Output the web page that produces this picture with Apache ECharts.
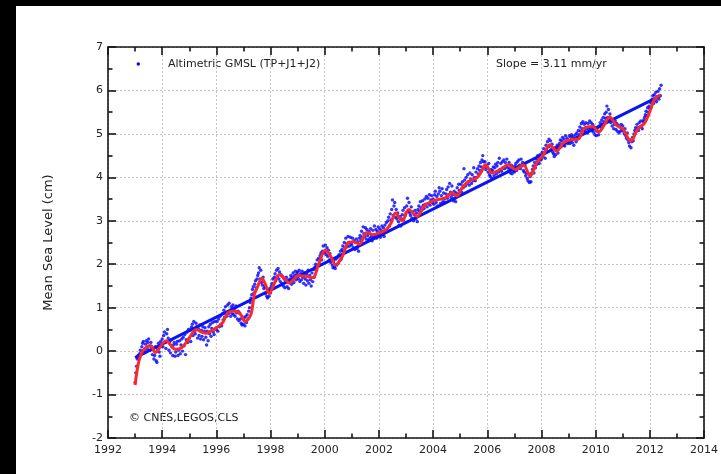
<!DOCTYPE html>
<html><head><meta charset="utf-8">
<script src="https://cdn.jsdelivr.net/npm/echarts@6/dist/echarts.min.js"></script>
<style>html,body{margin:0;padding:0;background:#fff}#c{width:721px;height:474px}</style>
</head><body><div id="c"></div>
<script>
// ---- Data ----
const dotYears = [1993,1994,1995,1996,1997,1998,1999,2000,2001,2002,2003,2004,2005,2006,2007,2008,2009,2010,2011,2012];
const dots1993 = [-0.72,-0.50,-0.35,-0.18,-0.10,-0.16,-0.06,0.02,-0.08,0.10,0.18,0.22,0.02,-0.04,0.16,0.24,0.06,0.20,0.28,0.12,0.02,0.20,0.10,-0.08,0.04,-0.18,-0.10,0.10,-0.22,-0.26,0.05,0.18,-0.02,-0.12,0.22,0.12];
const dots1994 = [0.28,0.10,0.36,0.44,0.20,0.06,0.40,0.50,0.30,0.02,0.22,-0.04,0.26,0.10,-0.10,0.14,0.20,-0.12,-0.02,0.16,0.22,-0.10,0.02,0.24,-0.06,0.14,0.28,0.00,0.32,0.12,0.38,-0.08,0.26,0.44,0.20,0.50];
const dots1995 = [0.30,0.48,0.22,0.55,0.62,0.36,0.68,0.46,0.40,0.64,0.56,0.30,0.52,0.36,0.60,0.28,0.48,0.34,0.56,0.26,0.46,0.54,0.32,0.14,0.46,0.24,0.56,0.40,0.62,0.34,0.52,0.66,0.44,0.38,0.68,0.52];
const dots1996 = [0.50,0.68,0.46,0.74,0.56,0.80,0.62,0.58,0.86,0.72,0.94,0.78,1.02,0.86,0.80,1.06,0.86,1.10,0.90,0.80,1.02,0.86,1.06,0.84,0.98,0.80,1.04,0.88,0.74,0.92,0.70,0.88,0.74,0.64,0.60,0.78];
const dots1997 = [0.62,0.76,0.58,0.80,0.66,0.84,0.74,0.92,1.00,1.12,1.22,1.30,1.42,1.48,1.34,1.54,1.62,1.46,1.66,1.74,1.80,1.92,1.66,1.86,1.58,1.52,1.70,1.44,1.50,1.32,1.46,1.26,1.22,1.40,1.26,1.44];
const dots1998 = [1.34,1.50,1.56,1.66,1.44,1.70,1.78,1.62,1.86,1.72,1.90,1.66,1.82,1.60,1.76,1.56,1.72,1.50,1.66,1.46,1.62,1.70,1.48,1.64,1.44,1.58,1.66,1.74,1.54,1.70,1.80,1.58,1.74,1.84,1.64,1.78];
const dots1999 = [1.82,1.66,1.86,1.60,1.78,1.64,1.84,1.70,1.56,1.80,1.66,1.52,1.78,1.62,1.86,1.56,1.74,1.64,1.50,1.80,1.60,1.88,1.70,1.94,2.00,1.86,2.10,1.96,2.14,2.00,2.20,2.26,2.10,2.30,2.42,2.26];
const dots2000 = [2.28,2.44,2.22,2.38,2.18,2.32,2.10,2.24,2.04,2.14,1.98,1.92,2.08,1.94,1.90,2.12,1.98,2.16,2.02,2.22,2.08,2.30,2.12,2.34,2.42,2.30,2.50,2.38,2.60,2.46,2.40,2.64,2.50,2.42,2.62,2.48];
const dots2001 = [2.44,2.60,2.38,2.54,2.34,2.50,2.58,2.36,2.52,2.30,2.60,2.66,2.54,2.76,2.62,2.86,2.70,2.64,2.84,2.58,2.80,2.66,2.56,2.76,2.60,2.82,2.64,2.54,2.78,2.62,2.88,2.66,2.80,2.60,2.76,2.86];
const dots2002 = [2.66,2.82,2.62,2.78,2.88,2.68,2.84,2.64,2.90,2.74,2.96,2.78,3.00,3.08,2.88,3.16,3.02,3.26,3.48,3.12,3.34,3.42,3.08,3.26,3.04,3.18,2.98,2.90,3.10,2.88,3.04,3.14,3.24,3.02,3.30,3.12];
const dots2003 = [3.18,3.34,3.52,3.22,3.42,3.18,3.12,3.32,3.06,3.20,3.00,3.14,3.24,3.04,3.18,2.98,3.26,3.34,3.22,3.44,3.30,3.24,3.46,3.36,3.28,3.50,3.38,3.56,3.32,3.52,3.40,3.60,3.36,3.48,3.58,3.42];
const dots2004 = [3.50,3.38,3.60,3.68,3.42,3.56,3.34,3.62,3.76,3.68,3.40,3.58,3.74,3.44,3.64,3.50,3.42,3.62,3.72,3.52,3.78,3.60,3.86,3.66,3.54,3.80,3.60,3.46,3.68,3.52,3.44,3.64,3.76,3.58,3.84,3.70];
const dots2005 = [3.70,3.84,3.66,3.90,3.76,4.20,3.94,3.80,4.00,3.86,4.06,3.90,3.82,4.10,3.96,3.86,4.06,3.92,4.22,4.00,3.92,4.12,4.00,4.20,4.08,4.26,4.16,4.34,4.24,4.40,4.50,4.36,4.24,4.36,4.18,4.28];
const dots2006 = [4.24,4.12,4.32,4.06,4.02,4.18,3.98,4.16,4.24,4.04,4.22,4.30,4.08,4.26,4.34,4.12,4.44,4.18,4.32,4.14,4.36,4.22,4.40,4.20,4.34,4.26,4.42,4.22,4.14,4.34,4.20,4.10,4.28,4.08,4.24,4.14];
const dots2007 = [4.12,4.26,4.32,4.16,4.36,4.22,4.40,4.28,4.20,4.42,4.26,4.34,4.16,4.12,4.28,4.04,4.10,3.98,3.92,4.08,3.88,4.02,3.90,4.10,4.18,4.26,4.10,4.34,4.22,4.42,4.30,4.50,4.38,4.32,4.52,4.40];
const dots2008 = [4.42,4.58,4.48,4.66,4.56,4.44,4.74,4.62,4.82,4.70,4.88,4.72,4.84,4.64,4.76,4.58,4.54,4.48,4.68,4.52,4.66,4.74,4.56,4.70,4.78,4.86,4.70,4.84,4.92,4.74,4.88,4.72,4.96,4.80,4.90,4.78];
const dots2009 = [4.82,4.96,4.78,4.92,4.98,4.80,4.94,4.74,4.90,4.98,4.82,5.02,4.88,5.08,4.98,5.16,5.06,5.24,5.12,5.28,5.08,5.22,5.06,5.26,5.12,5.02,5.24,5.10,5.30,5.14,5.26,5.08,5.22,5.04,5.16,4.98];
const dots2010 = [5.10,4.96,5.06,5.14,4.98,5.18,5.26,5.16,5.32,5.22,5.38,5.28,5.46,5.36,5.50,5.64,5.38,5.56,5.32,5.46,5.26,5.34,5.18,5.28,5.12,5.22,5.30,5.10,5.24,5.06,5.20,5.02,5.16,5.06,5.22,5.10];
const dots2011 = [5.18,5.06,5.00,5.12,4.96,4.90,5.02,4.86,4.80,4.72,4.86,4.68,4.82,4.92,4.84,5.00,5.08,5.14,5.06,5.22,5.14,5.08,5.26,5.16,5.30,5.18,5.12,5.28,5.32,5.38,5.44,5.52,5.42,5.60,5.50,5.64];
const dots2012 = [5.58,5.72,5.62,5.80,5.88,5.70,5.90,5.78,5.96,5.74,5.86,5.98,5.80,6.04,5.88,6.12];
const dotArrays = [dots1993,dots1994,dots1995,dots1996,dots1997,dots1998,dots1999,dots2000,dots2001,dots2002,dots2003,dots2004,dots2005,dots2006,dots2007,dots2008,dots2009,dots2010,dots2011,dots2012];
const samplesPerYear = 36;

// smoothed (red) curve
const redT = [1993.00,1993.10,1993.18,1993.30,1993.45,1993.57,1993.75,1993.90,1994.05,1994.16,1994.30,1994.48,1994.70,1994.95,1995.15,1995.26,1995.45,1995.63,1995.80,1995.93,1996.10,1996.24,1996.42,1996.60,1996.73,1996.91,1997.05,1997.12,1997.28,1997.40,1997.50,1997.68,1997.80,1997.95,1998.10,1998.32,1998.50,1998.69,1998.90,1999.06,1999.30,1999.55,1999.79,2000.02,2000.22,2000.40,2000.65,2000.85,2001.08,2001.28,2001.55,2001.78,2002.00,2002.28,2002.45,2002.61,2002.86,2003.10,2003.41,2003.65,2003.96,2004.20,2004.45,2004.70,2004.88,2005.07,2005.32,2005.62,2005.80,2005.93,2006.18,2006.47,2006.78,2007.03,2007.33,2007.58,2007.82,2008.07,2008.31,2008.56,2008.80,2009.10,2009.35,2009.60,2009.88,2010.12,2010.33,2010.52,2010.76,2011.00,2011.30,2011.56,2011.80,2011.98,2012.17,2012.39];
const redV = [-0.78,-0.35,-0.15,0.02,0.10,0.13,-0.03,0.07,0.20,0.24,0.15,0.04,0.07,0.25,0.45,0.50,0.44,0.41,0.46,0.51,0.58,0.66,0.88,0.92,0.92,0.83,0.69,0.70,0.85,1.30,1.45,1.67,1.55,1.32,1.50,1.76,1.68,1.57,1.68,1.74,1.72,1.69,2.03,2.32,2.18,1.99,2.18,2.49,2.52,2.46,2.73,2.68,2.72,2.80,2.95,3.18,3.00,3.26,3.10,3.33,3.45,3.49,3.53,3.64,3.57,3.76,3.91,3.99,4.15,4.29,4.10,4.18,4.29,4.18,4.29,4.03,4.33,4.52,4.75,4.60,4.79,4.87,4.88,5.14,5.17,5.05,5.22,5.39,5.20,5.12,4.83,5.12,5.24,5.48,5.79,5.90];

// linear trend (slope 3.11 mm/yr)
const trendT = [1993.0, 2012.4];
const trendV = [-0.15, 5.88];

const xMin = 1992, xMax = 2014, xStep = 2;
const yMin = -2, yMax = 7, yStep = 1;

const legendText = 'Altimetric GMSL (TP+J1+J2)';
const slopeText = 'Slope = 3.11 mm/yr';
const creditText = '\u00A9 CNES,LEGOS,CLS';
const yName = 'Mean Sea Level (cm)';

// ---- Build ----
const dotData = [];
dotArrays.forEach((arr, k) => arr.forEach((v, i) => dotData.push([dotYears[k] + i / samplesPerYear, v])));
const redData = redT.map((t, i) => [t, redV[i]]);
const trendData = trendT.map((t, i) => [t, trendV[i]]);

const FONT = 'DejaVu Sans';
const ink = '#151515';
function axis(min, max, interval, extra) {
  return Object.assign({
    type: 'value', min: min, max: max, interval: interval,
    axisLine: { show: true, onZero: false, lineStyle: { color: ink, width: 1.6 } },
    axisTick: { show: true, inside: true, length: 8, lineStyle: { color: ink, width: 1.6 } },
    minorTick: { show: true, splitNumber: 2, length: 4.5, lineStyle: { color: ink, width: 1.6 } },
    minorSplitLine: { show: false },
    splitLine: { show: false },
    axisLabel: { show: false }
  }, extra);
}
const gridLine = { show: true, lineStyle: { color: '#c4c4c4', width: 1, type: [2, 2] } };
const lbl = { show: true, fontFamily: FONT, fontSize: 11, color: '#222', formatter: v => String(v) };

const chart = echarts.init(document.getElementById('c'), null, { renderer: 'canvas' });
chart.setOption({
  backgroundColor: '#ffffff',
  animation: false,
  grid: { left: 108, right: 14.5, top: 47, bottom: 36 },
  xAxis: [
    axis(xMin, xMax, xStep, { position: 'bottom', splitLine: gridLine, axisLabel: Object.assign({ margin: 7 }, lbl) }),
    axis(xMin, xMax, xStep, { position: 'top' })
  ],
  yAxis: [
    axis(yMin, yMax, yStep, { position: 'left', splitLine: gridLine, axisLabel: Object.assign({ margin: 5 }, lbl),
      name: yName, nameLocation: 'middle', nameGap: 53,
      nameTextStyle: { fontFamily: FONT, fontSize: 13, color: '#222' } }),
    axis(yMin, yMax, yStep, { position: 'right' })
  ],
  series: [
    { type: 'scatter', name: legendText, data: dotData, symbol: 'circle', symbolSize: 3.4,
      itemStyle: { color: '#0000ff' }, z: 1, progressive: 0, large: false },
    { type: 'line', data: trendData, showSymbol: false, lineStyle: { color: '#0a14f0', width: 3 }, zlevel: 1, z: 3 },
    { type: 'line', data: redData, smooth: 0.35, showSymbol: false, lineStyle: { color: '#ff2626', width: 3 }, zlevel: 1, z: 4 }
  ],
  graphic: [
    { type: 'rect', shape: { x: 0, y: 0, width: 721, height: 6 }, style: { fill: '#000' } },
    { type: 'rect', shape: { x: 0, y: 0, width: 16, height: 474 }, style: { fill: '#000' } },
    { type: 'circle', shape: { cx: 138.3, cy: 64, r: 1.7 }, style: { fill: '#0000ff' } },
    { type: 'text', style: { text: legendText, x: 168, y: 64.5, font: '11px "DejaVu Sans"', fill: '#222', textVerticalAlign: 'middle', verticalAlign: 'middle' } },
    { type: 'text', style: { text: slopeText, x: 496, y: 64.5, font: '11px "DejaVu Sans"', fill: '#222', textVerticalAlign: 'middle', verticalAlign: 'middle' } },
    { type: 'text', style: { text: creditText, x: 129, y: 418, font: '11px "DejaVu Sans"', fill: '#222', textVerticalAlign: 'middle', verticalAlign: 'middle' } }
  ]
});
</script></body></html>
